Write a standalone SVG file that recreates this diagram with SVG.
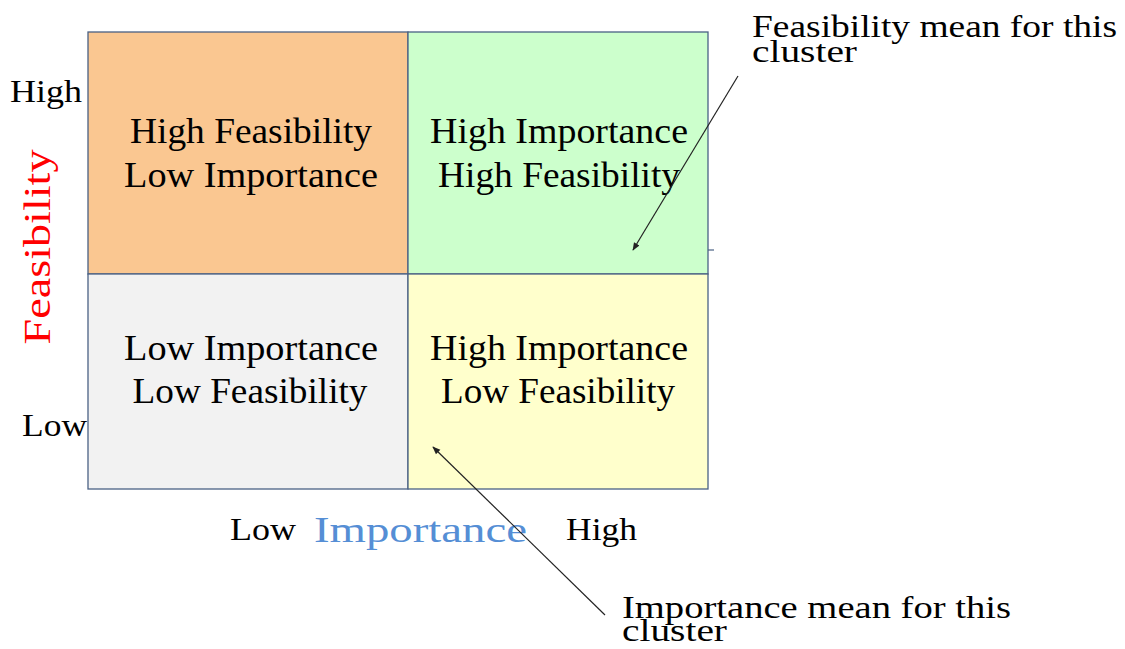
<svg xmlns="http://www.w3.org/2000/svg" width="1125" height="649" viewBox="0 0 1125 649">
<style>
.q{font-family:"Liberation Serif",serif;font-size:35px;fill:#000;text-anchor:middle}
.ax{font-family:"Liberation Serif",serif;font-size:31px;fill:#000}
.note{font-family:"Liberation Serif",serif;font-size:31px;fill:#000}
.cell{stroke:#4A6184;stroke-width:1.3}
.conn{stroke:#222;stroke-width:1.2;fill:none;marker-end:url(#ah)}
</style>
<defs>
<marker id="ah" viewBox="0 0 10 10" refX="9" refY="5" markerWidth="8" markerHeight="8" markerUnits="userSpaceOnUse" orient="auto">
<path d="M0,1 L10,5 L0,9 z" fill="#222"/>
</marker>
</defs>
<rect width="1125" height="649" fill="#fff"/>
<g id="q-hf-li">
<rect class="cell" x="88" y="32" width="320" height="242" fill="#FAC791"/>
<text class="q" x="251" y="143" textLength="242" lengthAdjust="spacingAndGlyphs">High Feasibility</text>
<text class="q" x="251" y="187" textLength="254" lengthAdjust="spacingAndGlyphs">Low Importance</text>
</g>
<g id="q-hi-hf">
<rect class="cell" x="408" y="32" width="300" height="242" fill="#CCFFCC"/>
<text class="q" x="559" y="143" textLength="258" lengthAdjust="spacingAndGlyphs">High Importance</text>
<text class="q" x="559" y="187" textLength="242" lengthAdjust="spacingAndGlyphs">High Feasibility</text>
</g>
<g id="q-li-lf">
<rect class="cell" x="88" y="274" width="320" height="215" fill="#F2F2F2"/>
<text class="q" x="251" y="360" textLength="254" lengthAdjust="spacingAndGlyphs">Low Importance</text>
<text class="q" x="250" y="403" textLength="235" lengthAdjust="spacingAndGlyphs">Low Feasibility</text>
</g>
<g id="q-hi-lf">
<rect class="cell" x="408" y="274" width="300" height="215" fill="#FFFFCC"/>
<text class="q" x="559" y="360" textLength="258" lengthAdjust="spacingAndGlyphs">High Importance</text>
<text class="q" x="558" y="403" textLength="234" lengthAdjust="spacingAndGlyphs">Low Feasibility</text>
</g>
<line x1="708" y1="250" x2="714" y2="250" stroke="#4A6184" stroke-width="1.2"/>
<g id="y-axis">
<text class="ax" x="10" y="102" textLength="72" lengthAdjust="spacingAndGlyphs">High</text>
<text class="ax" x="22" y="436" textLength="65" lengthAdjust="spacingAndGlyphs">Low</text>
<text x="0" y="0" transform="translate(50,247) rotate(-90)" font-family="'Liberation Serif',serif" font-size="37" fill="#FF0000" text-anchor="middle" textLength="195" lengthAdjust="spacingAndGlyphs">Feasibility</text>
</g>
<g id="x-axis">
<text class="ax" x="230" y="540" textLength="66" lengthAdjust="spacingAndGlyphs">Low</text>
<text class="ax" x="566" y="540" textLength="71" lengthAdjust="spacingAndGlyphs">High</text>
<text x="314" y="542" font-family="'Liberation Serif',serif" font-size="36" fill="#558ED5" textLength="213" lengthAdjust="spacingAndGlyphs">Importance</text>
</g>
<g id="note-feas">
<text class="note" x="752" y="37" textLength="365" lengthAdjust="spacingAndGlyphs">Feasibility mean for this</text>
<text class="note" x="752" y="62" textLength="105" lengthAdjust="spacingAndGlyphs">cluster</text>
</g>
<g id="note-imp">
<text class="note" x="622" y="618" textLength="389" lengthAdjust="spacingAndGlyphs">Importance mean for this</text>
<text class="note" x="622" y="641" textLength="105" lengthAdjust="spacingAndGlyphs">cluster</text>
</g>
<g id="connectors">
<line class="conn" x1="738" y1="76" x2="633" y2="250"/>
<line class="conn" x1="605" y1="615" x2="433" y2="447"/>
</g>
</svg>
